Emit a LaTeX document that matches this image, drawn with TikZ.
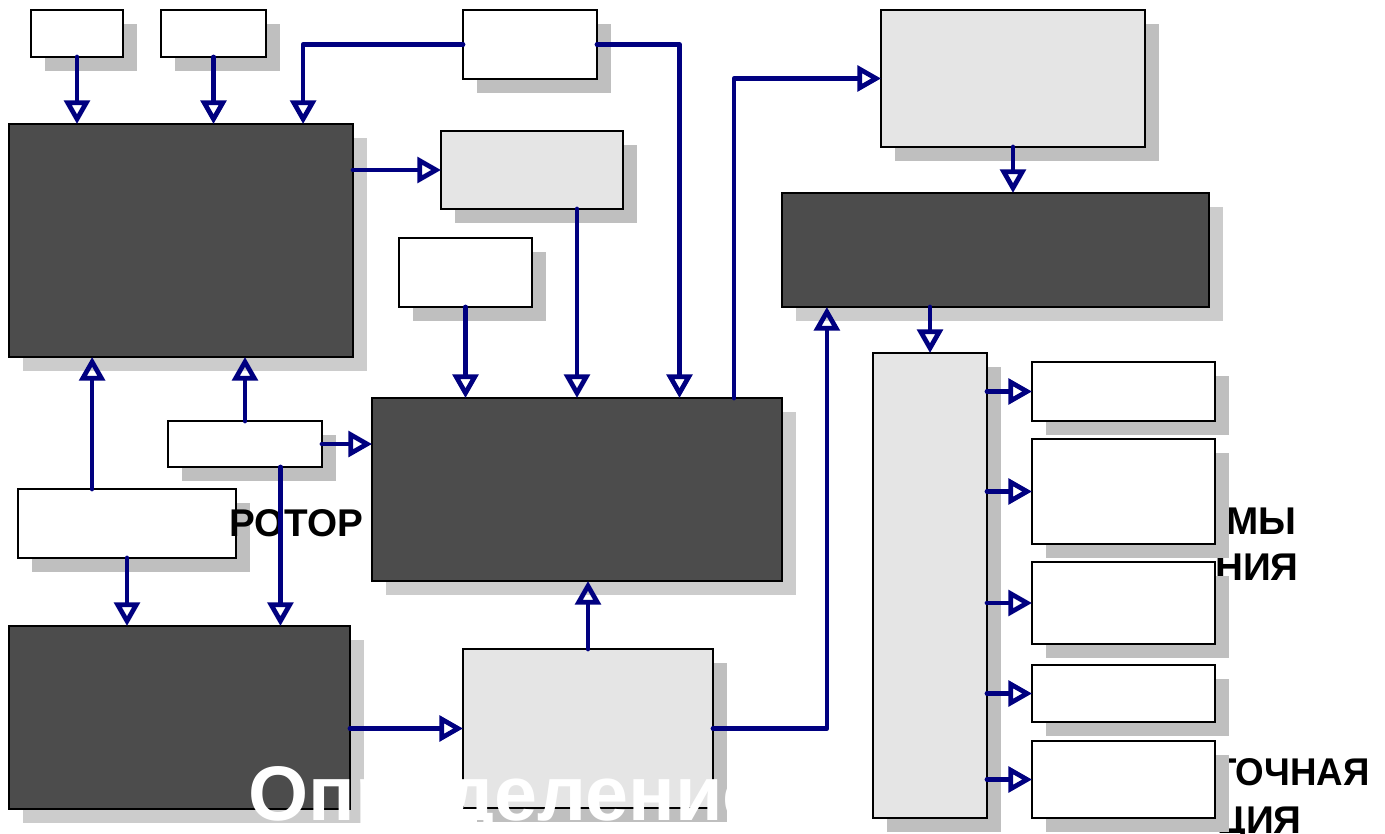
\documentclass[tikz,border=0pt]{standalone}
\usepackage{fontspec}
\setmainfont{Liberation Sans}
\usetikzlibrary{arrows.meta,shadows,calc}
\definecolor{navyline}{RGB}{0,0,128}
\tikzset{
  shade/.style={drop shadow={shadow xshift=.28cm,shadow yshift=-.28cm,opacity=1,fill=#1}},
  blk/.style={draw,line width=.8pt,inner sep=0pt,outer sep=0pt},
  dark/.style={blk,fill=black!70,shade=black!20},
  light/.style={blk,fill=black!10,shade=black!25},
  plain/.style={blk,fill=white,shade=black!25},
  link/.style={draw=navyline,line width=2.7pt,line join=round,line cap=round,
    -{Triangle[open,length=13.5pt,width=14.5pt]}},
  lbl/.style={font=\bfseries\fontsize{22}{26}\selectfont,inner sep=0pt}
}
\begin{document}
\begin{tikzpicture}
  [x=.02cm,y=-.02cm]
\useasboundingbox (0,0) rectangle (1385,834);
% text behind the right column
\node (t1)[lbl,anchor=base west] at (1226,534) {МЫ};
\node (t2)[lbl,anchor=base east] at (1299,580) {НИЯ};
\node (t3)[lbl,anchor=base east,xscale=.95] at (1370,785) {ТОЧНАЯ};
\node (t4)[lbl,anchor=base east] at (1302,833) {ЦИЯ};
% left part
\node (A1)[plain,minimum width=1.84cm,minimum height=.94cm] at (77,33.5) {};
\node (A2)[plain,minimum width=2.1cm,minimum height=.94cm] at (213.5,33.5) {};
\node (A3)[plain,minimum width=2.68cm,minimum height=1.38cm] at (530,44.5) {};
\node (L1)[dark,minimum width=6.88cm,minimum height=4.66cm] at (181,240.5) {};
\node (M1)[light,minimum width=3.64cm,minimum height=1.56cm] at (532,170) {};
\node (M2)[plain,minimum width=2.66cm,minimum height=1.38cm] at (465.5,272.5) {};
\node (C)[dark,minimum width=8.2cm,minimum height=3.66cm] at (577,489.5) {};
\node (S)[plain,minimum width=3.08cm,minimum height=.92cm] at (245,444) {};
\node (W)[plain,minimum width=4.36cm,minimum height=1.38cm] at (127,523.5) {};
\node (L2)[dark,minimum width=6.82cm,minimum height=3.66cm] at (179.5,717.5) {};
\node (B)[light,minimum width=5cm,minimum height=3.18cm] at (588,728.5) {};
% right part
\node (R1)[light,minimum width=5.28cm,minimum height=2.74cm] at (1013,78.5) {};
\node (R2)[dark,minimum width=8.54cm,minimum height=2.28cm] at (995.5,250) {};
\node (P)[light,minimum width=2.28cm,minimum height=9.3cm] at (930,585.5) {};
\foreach \n/\y/\h in {Q1/391.5/1.18,Q2/491.5/2.1,Q3/603/1.64,Q4/693.5/1.14,Q5/779.5/1.54}
  \node (\n)[plain,minimum width=3.66cm,minimum height=\h cm] at (1123.5,\y) {};
\node (rotor)[lbl,anchor=base west] at (229,536) {РОТОР};
% bend points
\coordinate (l1a) at ($(L1.north west)!.855!(L1.north east)$);
\coordinate (ca) at ($(C.north)!.5!(C.north east)$);
\coordinate (cb) at ($(C.north west)!.883!(C.north east)$);
\coordinate (wa) at ($(W.north west)!.34!(W.north east)$);
\coordinate (sa) at ($(S.south west)!.73!(S.south east)$);
\coordinate (r2a) at ($(R2.south west)!.105!(R2.south east)$);
\foreach \n in {A1,A2}
  \draw[link] (\n.south) -- (\n.south |- L1.north);
\draw[link] (A3.west) -| (l1a);
\draw[link] (A3.east) -| (ca);
\draw[link] (L1.east |- M1.west) -- (M1.west);
\draw[link] (M1.south -| C.north) -- (C.north);
\draw[link] (M2.south) -- (M2.south |- C.north);
\draw[link] (S.east) -- (S.east -| C.west);
\draw[link] (S.north) -- (S.north |- L1.south);
\draw[link] (wa) -- (wa |- L1.south);
\draw[link] (W.south) -- (W.south |- L2.north);
\draw[link] (sa) -- (sa |- L2.north);
\draw[link] (L2.east |- B.west) -- (B.west);
\draw[link] (B.north) -- (B.north |- C.south);
\draw[link] (B.east) -| (r2a);
\draw[link] (cb) |- (R1.west);
\draw[link] (R1.south) -- (R1.south |- R2.north);
\draw[link] (P.north |- R2.south) -- (P.north);
\foreach \n in {Q1,Q2,Q3,Q4,Q5}
  \draw[link] (P.east |- \n.west) -- (\n.west);
\node (title)[anchor=base west,inner sep=0pt,text=white,
  font=\bfseries\fontsize{44}{50}\selectfont] at (248,820) {Определение};
\end{tikzpicture}
\end{document}
